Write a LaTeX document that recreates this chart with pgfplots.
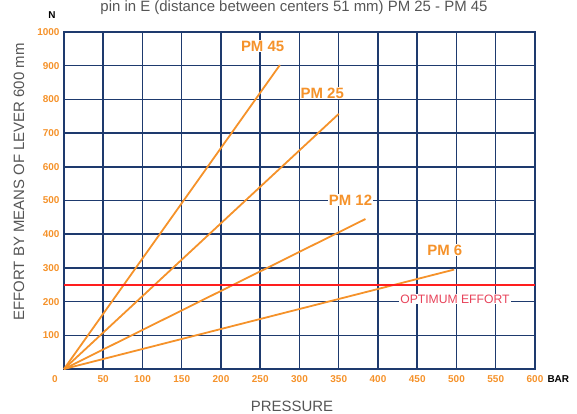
\documentclass[border=0pt]{standalone}
\usepackage{pgfplots}
\pgfplotsset{compat=1.18}
\usepackage{fontspec}
\setmainfont{Liberation Sans}
\definecolor{navy}{HTML}{1E3A6E}
\definecolor{org}{HTML}{F5922A}
\definecolor{redl}{HTML}{FF1E1E}
\definecolor{optc}{HTML}{E8435A}
\definecolor{gr}{HTML}{555555}
\begin{document}
\begin{tikzpicture}
\begin{axis}[
  scale only axis,
  width=471bp, height=337bp,
  xmin=0, xmax=600, ymin=0, ymax=1000,
  xtick={50,100,...,600}, ytick={100,200,...,1000},
  major tick length=0pt,
  grid=major,
  major grid style={navy, line width=1.5bp},
  axis line style={navy, line width=1.2bp},
  /pgf/number format/assume math mode=true,
  /pgf/number format/set thousands separator={},
  ticklabel style={font=\fontsize{10}{11}\selectfont\bfseries, text=org},
  xticklabel style={yshift=-3bp},
  yticklabel style={xshift=-1bp},
  clip=false,
]
\addplot[org, line width=1.8bp] coordinates {(0,0) (275,902)};
\addplot[org, line width=1.8bp] coordinates {(0,0) (350,757)};
\addplot[org, line width=1.8bp] coordinates {(0,0) (384,445)};
\addplot[org, line width=1.8bp] coordinates {(0,0) (497,295)};
\addplot[redl, line width=1.5bp] coordinates {(0,249) (600,249)};
\node[fill=white, inner sep=1bp, text=org, font=\fontsize{15}{16}\selectfont\bfseries] at (axis cs:253,958) {PM 45};
\node[fill=white, inner sep=1bp, text=org, font=\fontsize{15}{16}\selectfont\bfseries] at (axis cs:329,819) {PM 25};
\node[fill=white, inner sep=1bp, text=org, font=\fontsize{15}{16}\selectfont\bfseries] at (axis cs:365,501) {PM 12};
\node[fill=white, inner sep=1bp, text=org, font=\fontsize{15}{16}\selectfont\bfseries] at (axis cs:485,353) {PM 6};
\node[fill=white, inner sep=1bp, text=optc, font=\fontsize{12.2}{13}\selectfont] at (axis cs:498,208) {OPTIMUM EFFORT};
\node[text=org, font=\fontsize{10}{11}\selectfont\bfseries] at (axis cs:0,0) [xshift=-9bp, yshift=-10bp] {0};
\node[anchor=west, font=\fontsize{10}{11}\selectfont\bfseries] at (axis cs:600,0) [xshift=9bp, yshift=-10bp] {BAR};
\end{axis}
\node[font=\fontsize{10}{11}\selectfont\bfseries] at (-12bp,354bp) {N};
\node[anchor=base, text=gr, font=\fontsize{15}{16}\selectfont] at (230bp,357bp) {pin in E (distance between centers 51 mm) PM 25 - PM 45};
\node[text=gr, font=\fontsize{15}{16}\selectfont] at (228bp,-37bp) {PRESSURE};
\node[rotate=90, text=gr, font=\fontsize{15}{16}\selectfont] at (-45bp,187bp) {EFFORT BY MEANS OF LEVER 600 mm};
\pgfresetboundingbox
\useasboundingbox (-64bp,-45bp) rectangle (513bp,369bp);
\end{tikzpicture}
\end{document}
